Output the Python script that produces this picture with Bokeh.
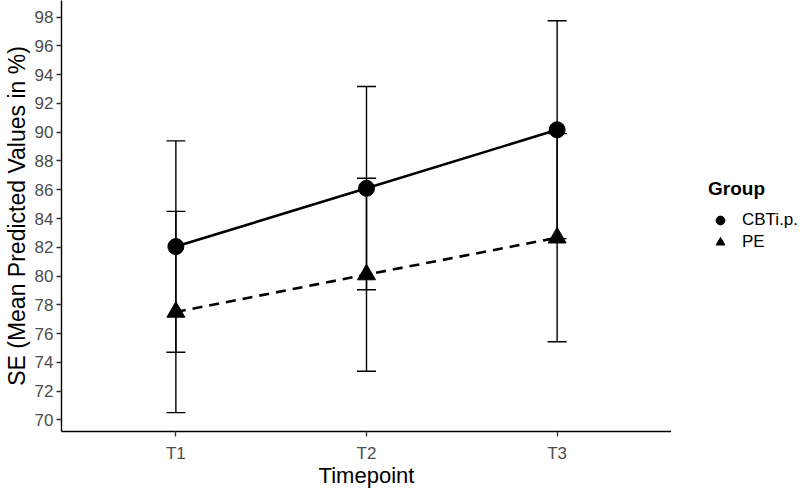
from bokeh.plotting import figure
from bokeh.layouts import row
from bokeh.models import (ColumnDataSource, Whisker, TeeHead, Legend, LegendItem,
                          FactorRange, SingleIntervalTicker, Range1d)
from bokeh.embed import file_html
from bokeh.resources import INLINE

# ---- data ----
timepoints = ["T1", "T2", "T3"]
cbt_mean = [82.05, 86.1, 90.17]
cbt_lower = [74.7, 79.05, 82.6]
cbt_upper = [89.4, 93.18, 97.75]
pe_mean = [77.5, 80.1, 82.66]
pe_lower = [70.5, 73.38, 75.43]
pe_upper = [84.5, 86.8, 89.9]
group_labels = ["CBTi.p.", "PE"]

FONT = "Liberation Sans"

p = figure(frame_width=610, frame_height=431,
           x_range=FactorRange(factors=timepoints, range_padding=0.1,
                               range_padding_units="absolute"),
           y_range=Range1d(69.19, 99.16),
           output_backend="svg", toolbar_location=None,
           min_border_left=0, min_border_top=0, min_border_bottom=0,
           min_border_right=0)
p.outline_line_color = None
p.xgrid.visible = False
p.ygrid.visible = False
p.background_fill_color = "white"

# lines
p.line(timepoints, cbt_mean, line_color="black", line_width=2.6)
p.line(timepoints, pe_mean, line_color="black", line_width=2.6, line_dash="10 7")

# error bars
for lo, up in [(cbt_lower, cbt_upper), (pe_lower, pe_upper)]:
    src = ColumnDataSource(dict(x=timepoints, lower=lo, upper=up))
    w = Whisker(base="x", lower="lower", upper="upper", source=src,
                line_color="black", line_width=1.4,
                upper_head=TeeHead(size=19, line_color="black", line_width=1.4),
                lower_head=TeeHead(size=19, line_color="black", line_width=1.4))
    p.add_layout(w)

p.scatter(timepoints, cbt_mean, marker="circle", size=16,
          fill_color="black", line_color="black")
p.scatter(timepoints, pe_mean, marker="triangle", size=18,
          fill_color="black", line_color="black")

# axes
for ax in (p.xaxis[0], p.yaxis[0]):
    ax.axis_line_color = "black"
    ax.axis_line_width = 1.4
    ax.major_tick_line_color = "#333333"
    ax.major_tick_line_width = 1.3
    ax.major_tick_out = 5
    ax.major_tick_in = 0
    ax.minor_tick_line_color = None
    ax.major_label_text_font = FONT
    ax.major_label_text_font_size = "17px"
    ax.major_label_text_color = "#4d4d4d"
    ax.axis_label_text_font = FONT
    ax.axis_label_text_font_style = "normal"
    ax.axis_label_text_color = "black"

p.yaxis.ticker = SingleIntervalTicker(interval=2)
p.yaxis.axis_label = "SE (Mean Predicted Values in %)"
p.yaxis.axis_label_text_font_size = "23px"
p.yaxis.major_label_standoff = 3
p.yaxis.axis_label_standoff = 2
p.xaxis.axis_label = "Timepoint"
p.xaxis.axis_label_text_font_size = "22px"
p.xaxis.major_label_standoff = 7
p.xaxis.axis_label_standoff = -3

# ---- legend panel ----
lg = figure(width=129, height=489, x_range=Range1d(0, 1), y_range=Range1d(0, 1),
            x_axis_location=None, y_axis_location=None,
            output_backend="svg", toolbar_location=None,
            min_border_left=0, min_border_top=0, min_border_bottom=0,
            min_border_right=0)
lg.outline_line_color = None
lg.xgrid.visible = False
lg.ygrid.visible = False
# keys drawn only in the legend (points lie outside the visible range)
g_cbt = lg.scatter(x=[-10], y=[-10], marker="circle", size=16,
                   fill_color="black", line_color="black")
g_pe = lg.scatter(x=[-10], y=[-10], marker="triangle", size=18,
                  fill_color="black", line_color="black")

legend = Legend(items=[LegendItem(label=group_labels[0], renderers=[g_cbt]),
                       LegendItem(label=group_labels[1], renderers=[g_pe])],
                title="Group", title_text_font=FONT, title_text_font_style="bold",
                title_text_font_size="19px", title_text_color="black",
                title_standoff=9,
                label_text_font=FONT, label_text_font_size="17px",
                label_text_color="black",
                glyph_width=24, glyph_height=22, spacing=0, label_standoff=10,
                padding=0, margin=0, border_line_color=None,
                background_fill_alpha=0, location=(37, 177))
lg.add_layout(legend, "center")

layout = row(p, lg, spacing=0)
open("out.html", "w").write(file_html(layout, INLINE))
